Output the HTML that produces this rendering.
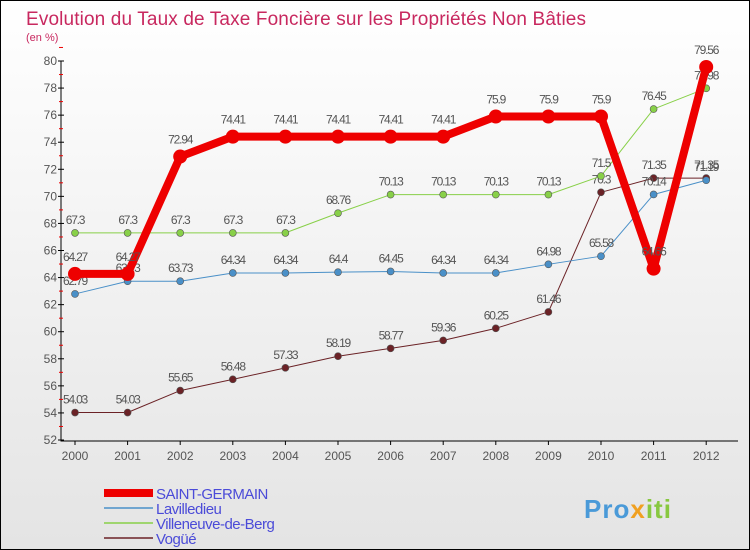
<!DOCTYPE html>
<html><head><meta charset="utf-8"><style>
body{margin:0}
#c{width:750px;height:550px;position:relative;box-sizing:border-box;border:1px solid #000;background:linear-gradient(#fff,#e4e4e4);font-family:"Liberation Sans",sans-serif;overflow:hidden}
</style></head><body>
<div id="c">
<svg id="s" width="748" height="548"></svg>
</div>
<script>
const years=[2000,2001,2002,2003,2004,2005,2006,2007,2008,2009,2010,2011,2012];
const sgValues=[64.27,64.27,72.94,74.41,74.41,74.41,74.41,74.41,75.9,75.9,75.9,64.66,79.56];
const lavValues=[62.79,63.73,63.73,64.34,64.34,64.4,64.45,64.34,64.34,64.98,65.58,70.14,71.19];
const vilValues=[67.3,67.3,67.3,67.3,67.3,68.76,70.13,70.13,70.13,70.13,71.5,76.45,77.98];
const vogValues=[54.03,54.03,55.65,56.48,57.33,58.19,58.77,59.36,60.25,61.46,70.3,71.35,71.35];
const yTicks=[52,54,56,58,60,62,64,66,68,70,72,74,76,78,80];
const seriesNames=["SAINT-GERMAIN","Lavilledieu","Villeneuve-de-Berg","Vogüé"];
const s=document.getElementById('s');const NS='http://www.w3.org/2000/svg';
function el(t,a,p){const e=document.createElementNS(NS,t);for(const k in a)e.setAttribute(k,a[k]);(p||s).appendChild(e);return e;}
const X=i=>74+i*52.6, Y=v=>439-(v-52)*(379/28);
function txt(x,y,str,a,name){const t=el('text',Object.assign({x:x,y:y,'font-size':12,fill:'#444'},a));t.textContent=str;

return t;}
txt(25,24,"Evolution du Taux de Taxe Foncière sur les Propriétés Non Bâties",{'font-size':19,fill:'#c8285f','textLength':560},'chart-title');
txt(25,40,"(en %)",{'font-size':11,fill:'#c8285f'},'y-unit-label');
const ax=el('path',{d:'M60 60V440H737',stroke:'#000','stroke-width':1,fill:'none'});


yTicks.forEach(v=>{el('line',{x1:57,x2:63,y1:Y(v),y2:Y(v),stroke:'#000'});el('line',{x1:58,x2:62,y1:Y(v+1),y2:Y(v+1),stroke:'#e00'});
txt(56,Y(v)+4,v,{'text-anchor':'end',fill:'#555'},'y-tick-label');});
years.forEach((y,i)=>{el('line',{x1:X(i),x2:X(i),y1:440,y2:444,stroke:'#000'});txt(X(i),459,y,{'text-anchor':'middle',fill:'#555'},'x-tick-label');});
function series(vals,color,w,r,name,dy){
const p=el('polyline',{points:vals.map((v,i)=>X(i)+','+Y(v)).join(' '),fill:'none',stroke:color,'stroke-width':w,'stroke-linejoin':'round'});


vals.forEach((v,i)=>{const c=el('circle',{cx:X(i),cy:Y(v),r:r,fill:color,stroke:'#555','stroke-width':w>3?0:0.6});


txt(X(i),Y(v)-dy,String(v),{'text-anchor':'middle','font-size':12,fill:'#555','letter-spacing':'-1.2'},name+'-value');});}
series(vogValues,'#6b2226',1,3.5,'vogue',9);
series(lavValues,'#4a90c8',1,3.5,'lavilledieu',9);
series(vilValues,'#88d048',1,3.5,'villeneuve',9);
series(sgValues,'#ee0000',8,7,'saint-germain',13);
const leg=[['#ee0000',8],['#4a90c8',1.5],['#88d048',1.5],['#6b2226',1.5]];
leg.forEach((l,i)=>{const y=492+i*15;const ln=el('line',{x1:103,x2:152,y1:y,y2:y,stroke:l[0],'stroke-width':l[1]});


txt(155,y+6,seriesNames[i],{'font-size':15,fill:'#4b4bd8','letter-spacing':'-0.5'},'legend-entry');});
const lg=txt(583,517,"",{'font-size':26,'font-weight':'bold','letter-spacing':'1'},'logo');
[['Pro','#4a9ad8'],['x','#f0a020'],['iti','#88c840']].forEach(p=>{const t=el('tspan',{fill:p[1]},lg);t.textContent=p[0];});
</script>
</body></html>
